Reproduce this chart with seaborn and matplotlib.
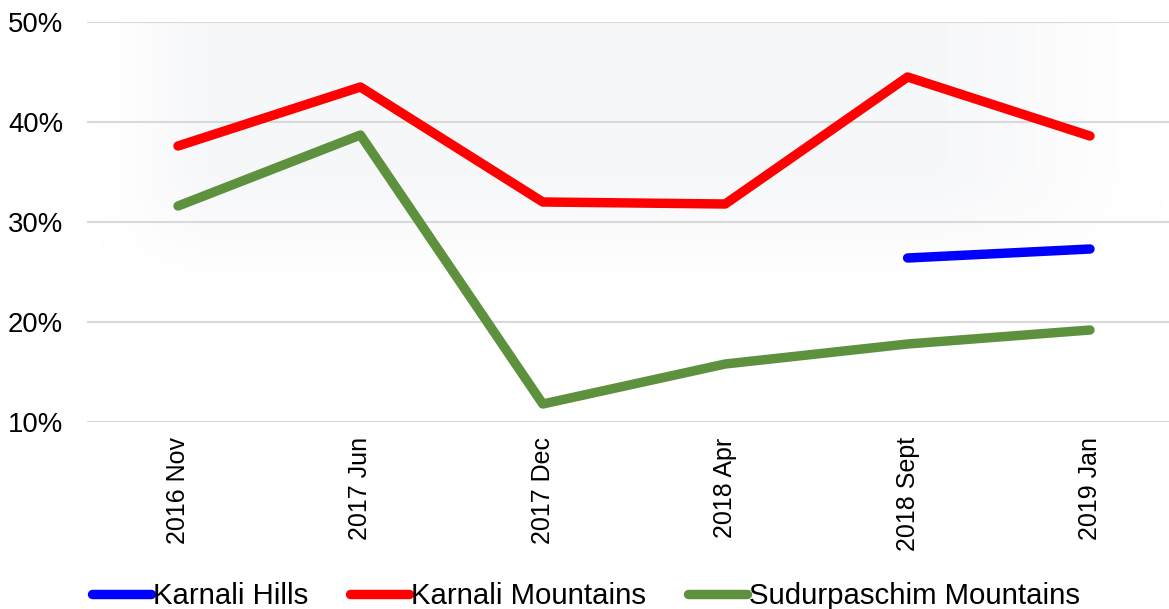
import numpy as np
import pandas as pd
import matplotlib
matplotlib.use("Agg")
import matplotlib.pyplot as plt
import seaborn as sns

categories = ["2016 Nov", "2017 Jun", "2017 Dec", "2018 Apr", "2018 Sept", "2019 Jan"]
karnali_hills = [np.nan, np.nan, np.nan, np.nan, 26.4, 27.3]
karnali_mountains = [37.6, 43.5, 32.0, 31.8, 44.5, 38.6]
sudurpaschim_mountains = [31.6, 38.7, 11.8, 15.8, 17.8, 19.2]
series_names = ["Karnali Hills", "Karnali Mountains", "Sudurpaschim Mountains"]
series_colors = ["#0000FF", "#FF0000", "#5E913D"]
y_ticks = [10, 20, 30, 40, 50]

sns.set_theme(style="white")
plt.rcParams["font.family"] = ["Liberation Sans", "DejaVu Sans"]
plt.rcParams["text.color"] = "black"
plt.rcParams["xtick.color"] = "black"
plt.rcParams["ytick.color"] = "black"

rows = []
for name, vals in zip(series_names, [karnali_hills, karnali_mountains, sudurpaschim_mountains]):
    for c, v in zip(categories, vals):
        rows.append({"period": c, "value": v, "series": name})
df = pd.DataFrame(rows)

fig = plt.figure(figsize=(11.69, 6.09), dpi=100)
ax = fig.add_axes([86.8 / 1169, 1 - 422 / 609, 1094.4 / 1169, 400 / 609])

# soft background glow
nx, ny = 300, 200
xs = np.linspace(0, 1, nx)
ys = np.linspace(1, 0, ny)
X, Y = np.meshgrid(xs, ys)
def smooth(t):
    t = np.clip(t, 0, 1)
    return t * t * (3 - 2 * t)
gx = smooth(X / 0.12) * smooth((1.0 - X) / 0.25)
gy = smooth((Y - 0.3) / 0.35)
alpha = gx * gy * 0.5
img = np.zeros((ny, nx, 4))
img[..., 0] = 0.935
img[..., 1] = 0.945
img[..., 2] = 0.96
img[..., 3] = alpha
ax.imshow(img, extent=(-0.5, 5.5, 10, 50), aspect="auto", zorder=0, interpolation="bilinear")

sns.lineplot(data=df, x="period", y="value", hue="series", hue_order=series_names,
             palette=dict(zip(series_names, series_colors)), sort=False, lw=6.8,
             solid_capstyle="round", solid_joinstyle="round", ax=ax, zorder=3)

ax.set_xlim(-0.5, 5.5)
ax.set_ylim(10, 50)
ax.set_yticks(y_ticks)
ax.set_yticklabels([f"{t}%" for t in y_ticks], fontsize=19.8)
ax.set_xticks(range(len(categories)))
ax.set_xticklabels(categories, rotation=90, fontsize=18)
ax.tick_params(axis="y", length=0, pad=17, labelcolor="black")
ax.tick_params(axis="x", length=0, pad=11, labelcolor="black")
ax.set_xlabel("")
ax.set_ylabel("")
for s in ax.spines.values():
    s.set_visible(False)
ax.grid(axis="y", color="#D9D9D9", lw=1.5, zorder=1)
ax.set_axisbelow(True)
ax.set_facecolor("none")

handles, labels = ax.get_legend_handles_labels()
ax.get_legend().remove()
leg = fig.legend(handles, labels, loc="center left", bbox_to_anchor=(92 / 1169, 1 - 596 / 609),
                 ncol=3, frameon=False, fontsize=21.2, handlelength=2.0, handletextpad=0.07,
                 columnspacing=1.42, borderpad=0, borderaxespad=0)
for t in leg.get_texts():
    t.set_color("black")

fig.savefig("out.png", dpi=100)
